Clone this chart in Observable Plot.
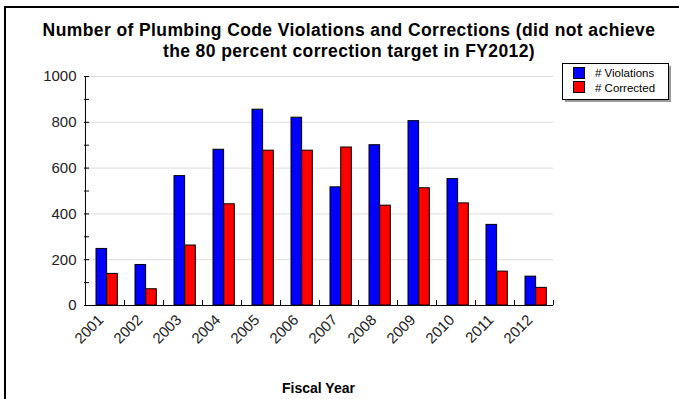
<!DOCTYPE html>
<html><head><meta charset="utf-8">
<script src="https://cdn.jsdelivr.net/npm/d3@7"></script>
<script src="https://cdn.jsdelivr.net/npm/@observablehq/plot@0.6"></script>
<style>body{margin:0;background:#fff} svg{display:block}</style>
</head><body><div id="chart"></div>
<script>
const years = ["2001","2002","2003","2004","2005","2006","2007","2008","2009","2010","2011","2012"];
const violations = [247,177,565,680,855,820,516,700,805,552,352,126];
const corrected = [138,71,262,442,676,676,690,436,512,446,148,77];
const yTicks = [0,200,400,600,800,1000];
const yMinorTicks = [0,100,200,300,400,500,600,700,800,900,1000];
const seriesNames = ["# Violations","# Corrected"];
const seriesColors = ["#0000ff","#ff0000"];
const titleLines = ["Number of Plumbing Code Violations and Corrections (did not achieve","the 80 percent correction target in FY2012)"];
const xLabel = "Fiscal Year";

const W = 679, H = 399, mL = 84, mR = 126, mT = 76, mB = 94;
const step = (W - mL - mR) / years.length;
const off = 11, bw = 10.7;
const rows = years.map((y, i) => ({year: y, v: violations[i], c: corrected[i]}));
const font = "'Liberation Sans', Arial, sans-serif";

const plot = Plot.plot({
  width: W, height: H,
  marginLeft: mL, marginRight: mR, marginTop: mT, marginBottom: mB,
  style: {fontFamily: font, background: "white", overflow: "visible"},
  x: {type: "band", domain: years, padding: 0, label: null},
  y: {domain: [0, 1000], label: null},
  marks: [
    Plot.gridY(yTicks.filter(d => d > 0), {stroke: "#dcdcdc", strokeOpacity: 1}),
    Plot.barY(rows, {x: "year", y: "v", fill: seriesColors[0], stroke: "black", strokeWidth: 1, insetLeft: off, insetRight: step - off - bw}),
    Plot.barY(rows, {x: "year", y: "c", fill: seriesColors[1], stroke: "black", strokeWidth: 1, insetLeft: off + bw, insetRight: step - off - 2 * bw}),
    Plot.axisY({ticks: yMinorTicks, tickSize: -5, fill: "none", label: null, stroke: "black"}),
    Plot.axisY({ticks: yTicks, tickSize: 0, tickPadding: 8, fontSize: 15, fill: "#222", label: null, tickFormat: d => String(d)}),
    Plot.axisX({tickSize: -5, dx: step / 2, fill: "none", label: null, stroke: "black"}),
    Plot.axisX({tickSize: 0, tickPadding: 12, tickRotate: -45, fontSize: 15, fill: "#222", label: null, dx: -4}),
    Plot.ruleX([years[0]], {dx: -step / 2, stroke: "black"}),
    Plot.ruleY([0], {stroke: "black"})
  ]
});
document.getElementById("chart").appendChild(plot);

const svg = d3.select(plot);
// outer border (top & left)
svg.append("path").attr("d", `M5,${H}V7H${W}`).attr("fill", "none").attr("stroke", "black").attr("stroke-width", 2);
// title
const t = svg.append("text").attr("font-family", font).attr("font-weight", "bold").attr("font-size", 17.5)
  .attr("letter-spacing", 0.4).attr("text-anchor", "middle").attr("fill", "black");
t.append("tspan").attr("x", 349).attr("y", 36).text(titleLines[0]);
t.append("tspan").attr("x", 349).attr("y", 57).text(titleLines[1]);
// x label
svg.append("text").attr("font-family", font).attr("font-weight", "bold").attr("font-size", 14)
  .attr("text-anchor", "middle").attr("x", (mL + W - mR) / 2).attr("y", 393).text(xLabel);
// legend
const lg = svg.append("g").attr("text-anchor", "start");
lg.append("rect").attr("x", 565).attr("y", 66).attr("width", 106).attr("height", 36).attr("fill", "#9a9a9a");
lg.append("rect").attr("x", 562.5).attr("y", 63.5).attr("width", 106).attr("height", 36).attr("fill", "white").attr("stroke", "black");
seriesNames.forEach((name, i) => {
  lg.append("rect").attr("x", 573.5).attr("y", 67.5 + i * 14).attr("width", 11).attr("height", 11)
    .attr("fill", seriesColors[i]).attr("stroke", "black");
  lg.append("text").attr("x", 595).attr("y", 77 + i * 14.5).attr("font-family", font).attr("font-size", 11.5)
    .attr("text-anchor", "start").attr("fill", "black").text(name);
});
</script>
</body></html>
